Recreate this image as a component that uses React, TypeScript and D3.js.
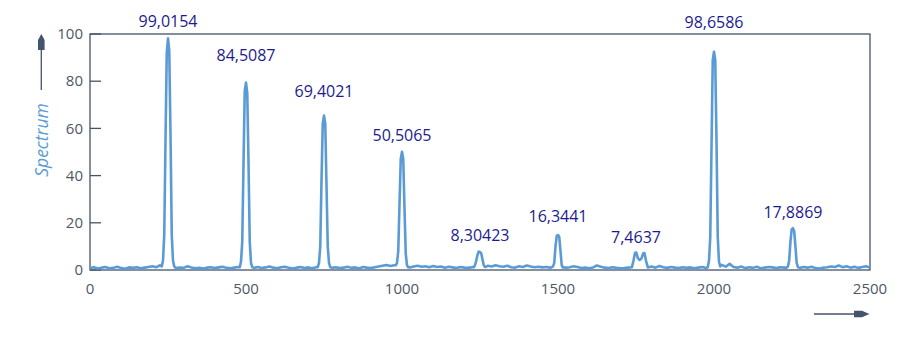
import React from 'react';
import * as d3 from 'd3';

const X_MAX = 2500;
const Y_MAX = 100;
const xTicks = [0, 500, 1000, 1500, 2000, 2500];
const yTicks = [0, 20, 40, 60, 80, 100];

// noisy baseline sampled every 12.5 units (0..2500)
const baselineStep = 12.5;
const baselineValues = [
  0.8, 1.2, 0.6, 1.0, 1.3, 0.7, 0.9, 1.4, 0.8, 0.5, 1.1, 0.9, 1.2, 0.7, 1.0, 1.3, 1.6, 1.2, 2.0, 1.5,
  2.0, 1.2,
  0.8, 1.0, 0.9, 1.6, 1.1, 0.7, 0.9, 0.6, 1.0, 1.2, 0.8, 1.1, 1.4, 0.9, 0.7, 1.0, 1.3, 1.5,
  2.0, 1.2,
  0.9, 1.3, 0.8, 1.1, 1.5, 1.0, 0.7, 1.2, 1.4, 0.9, 0.6, 1.0, 1.3, 0.8, 1.1, 0.7, 1.2, 1.6,
  2.0, 1.3,
  0.9, 1.2, 0.8, 1.0, 1.4, 0.9, 1.1, 0.7, 1.3, 1.0, 0.8, 1.2, 1.5, 1.8, 2.1, 1.7, 2.0, 2.2,
  2.0, 1.4,
  1.1, 1.5, 1.8, 1.4, 1.6, 1.2, 1.7, 1.3, 1.5, 1.0, 1.4, 1.1, 0.8, 1.3, 1.0, 0.9, 1.2, 1.5,
  2.0, 1.6,
  1.8, 1.5, 2.0, 1.6, 1.4, 1.8, 1.2, 1.0, 1.6, 1.3, 1.9, 1.5, 1.2, 1.4, 1.1, 1.3, 1.0, 1.2,
  2.0, 1.3,
  0.9, 1.2, 1.6, 1.3, 0.8, 1.0, 0.7, 1.1, 1.9, 1.4, 1.0, 0.8, 1.2, 0.9, 0.7, 0.8, 1.0, 1.3,
  2.0, 2.0, 2.0,
  1.2, 1.5, 1.0, 1.7, 1.2, 0.9, 1.3, 1.0, 0.8, 1.2, 0.9, 1.1, 0.7, 1.0, 1.3, 0.8, 1.1,
  2.0, 1.5,
  2.2, 1.4, 2.6, 1.3, 1.0, 1.5, 0.8, 1.2, 0.9, 1.4, 0.7, 1.0, 1.3, 1.1, 0.8, 1.2, 1.0, 1.4,
  2.0, 1.3,
  0.9, 1.3, 1.0, 1.4, 0.8, 0.6, 1.0, 1.2, 1.5, 1.3, 1.9, 1.2, 1.6, 1.0, 1.4, 0.9, 1.3, 1.6, 1.0,
];

// single peaks
const peakOffsets = [-20, -16, -12, -8, -4, 0, 4, 8, 12, 16, 20];
const peakCenters = [250, 500, 750, 1000, 1250, 1500, 2000, 2253];
const peak250 = [1.5, 4, 15, 55, 92, 98.2, 93, 58, 15, 4, 1.5];
const peak500 = [1.2, 3.5, 12, 45, 76, 79.4, 75, 46, 12, 3, 1.2];
const peak750 = [1.2, 3, 10, 38, 62, 65.4, 62, 36, 10, 3, 1.2];
const peak1000 = [2, 3, 8, 28, 47, 50.1, 47, 26, 7, 2, 1.2];
const peak1250 = [1.2, 2, 4, 6.5, 7.8, 7.6, 7, 4.5, 2, 1.3, 1.4];
const peak1500 = [1.2, 1.5, 3, 10, 14.5, 14.8, 14, 8, 2, 1, 1.2];
const peak2000 = [1.2, 4, 14, 52, 89, 92.5, 89, 55, 14, 3.5, 1.5];
const peak2250 = [1, 1.5, 4, 12, 17.2, 17.7, 16.5, 10, 3, 1.2, 1];
const peakProfiles = [peak250, peak500, peak750, peak1000, peak1250, peak1500, peak2000, peak2250];

// double peak near 1750
const doublePeakX = [1737, 1742, 1747, 1751, 1756, 1762, 1768, 1773, 1777, 1782, 1788];
const doublePeakY = [1.2, 4, 7.3, 7.4, 5, 4.2, 5, 7, 7.2, 4, 1.1];

// data labels
const labelX = [250, 500, 750, 1000, 1250, 1500, 1750, 2000, 2253];
const labelValue = [99.0154, 84.5087, 69.4021, 50.5065, 8.30423, 16.3441, 7.4637, 98.6586, 17.8869];
const labelText = ['99,0154', '84,5087', '69,4021', '50,5065', '8,30423', '16,3441', '7,4637', '98,6586', '17,8869'];

const W = 903;
const H = 342;
const LEFT = 90;
const RIGHT = 870;
const TOP = 34;
const BOTTOM = 270;

const axisColor = '#44546a';
const tickTextColor = '#4d5868';
const lineColor = '#5b9bd5';
const labelColor = '#1c1c8e';
const font = '"Open Sans", "Noto Sans", sans-serif';

function buildPoints(): [number, number][] {
  const ranges: [number, number][] = peakCenters.map((c) => [c + peakOffsets[0], c + peakOffsets[peakOffsets.length - 1]]);
  ranges.push([doublePeakX[0], doublePeakX[doublePeakX.length - 1]]);
  const pts: [number, number][] = [];
  baselineValues.forEach((v, i) => {
    const x = i * baselineStep;
    if (!ranges.some(([a, b]) => x >= a && x <= b)) pts.push([x, v]);
  });
  peakCenters.forEach((c, k) => {
    peakOffsets.forEach((o, j) => pts.push([c + o, peakProfiles[k][j]]));
  });
  doublePeakX.forEach((x, j) => pts.push([x, doublePeakY[j]]));
  pts.sort((a, b) => a[0] - b[0]);
  return pts;
}

export default function App() {
  const x = d3.scaleLinear().domain([0, X_MAX]).range([LEFT, RIGHT]);
  const y = d3.scaleLinear().domain([0, Y_MAX]).range([BOTTOM, TOP]);
  const pts = buildPoints();
  const line = d3
    .line<[number, number]>()
    .x((d) => x(d[0]))
    .y((d) => y(d[1]));

  return (
    <svg
      width={W}
      height={H}
      style={{ position: 'absolute', left: 0, top: 0, background: '#fff' }}
      fontFamily={font}
    >
      {/* frame */}
      <rect x={LEFT} y={TOP} width={RIGHT - LEFT} height={BOTTOM - TOP} fill="none" stroke={axisColor} strokeWidth={1.3} />
      {/* y ticks */}
      {yTicks.map((t) => (
        <g key={'y' + t}>
          <line x1={LEFT} x2={LEFT + 11} y1={y(t)} y2={y(t)} stroke={axisColor} strokeWidth={1.3} />
          <text x={83} y={y(t)} dy="0.35em" textAnchor="end" fontSize={15} fill={tickTextColor}>
            {t}
          </text>
        </g>
      ))}
      {/* x tick labels */}
      {xTicks.map((t) => (
        <text key={'x' + t} x={x(t)} y={294} textAnchor="middle" fontSize={15} fill={tickTextColor}>
          {t}
        </text>
      ))}
      {/* data line */}
      <path d={line(pts) || ''} fill="none" stroke={lineColor} strokeWidth={2.6} strokeLinejoin="round" />
      {/* data labels */}
      {labelX.map((lx, i) => (
        <text key={'l' + i} x={x(lx)} y={y(labelValue[i]) - 9.5} textAnchor="middle" fontSize={16} fill={labelColor}>
          {labelText[i]}
        </text>
      ))}
      {/* y arrow */}
      <line x1={41.3} x2={41.3} y1={90} y2={40} stroke={axisColor} strokeWidth={1.3} />
      <path d="M41.3,34 L44.6,40 L44.6,50 L38,50 L38,40 Z" fill={axisColor} />
      <text
        transform="translate(47.5,140) rotate(-90)"
        textAnchor="middle"
        fontSize={17.5}
        fontStyle="italic"
        fill={lineColor}
      >
        Spectrum
      </text>
      {/* x arrow */}
      <line x1={814} x2={864} y1={314} y2={314} stroke={axisColor} strokeWidth={1.3} />
      <path d="M869.5,314 L862,310.8 L854,310.8 L854,317.2 L862,317.2 Z" fill={axisColor} />
    </svg>
  );
}
